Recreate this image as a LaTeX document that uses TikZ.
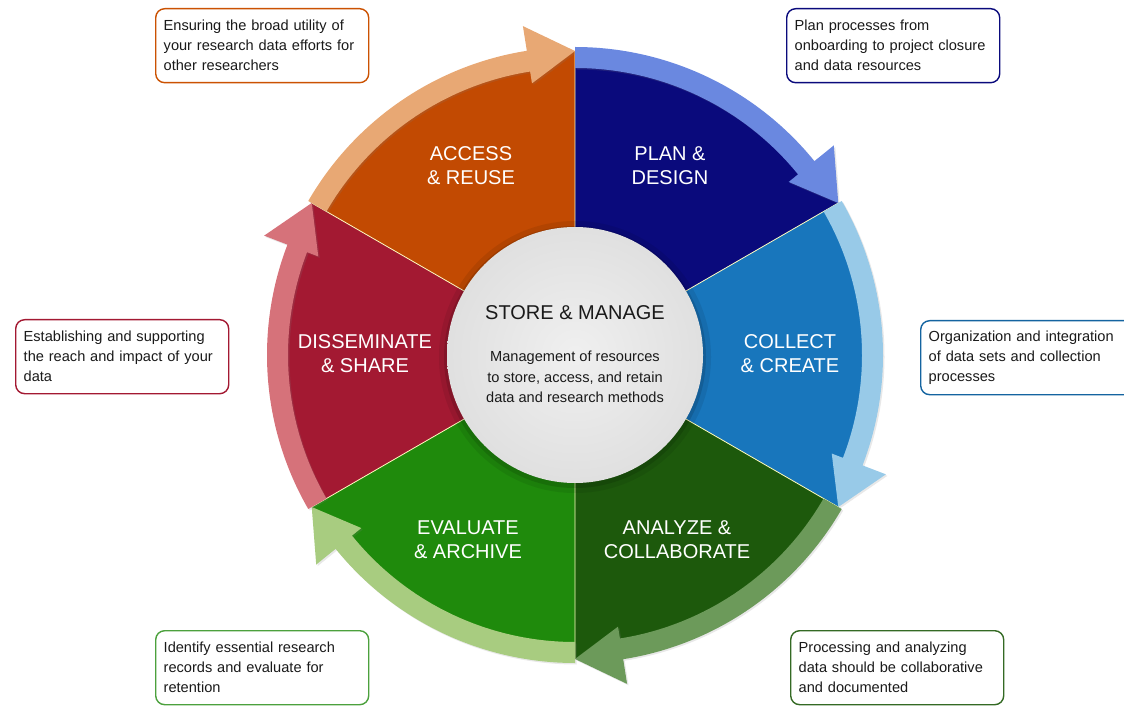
\documentclass[tikz,border=0pt]{standalone}
\usepackage{fontspec}
\setmainfont{Liberation Sans}
\usepackage{xcolor}
\usepackage{tikz}
\usetikzlibrary{shadows}

\definecolor{accF}{HTML}{C24A02}
\definecolor{accA}{HTML}{E8A874}
\definecolor{plnF}{HTML}{0A0A7C}
\definecolor{plnA}{HTML}{6A88E0}
\definecolor{colF}{HTML}{1876BC}
\definecolor{colA}{HTML}{98CAE8}
\definecolor{anaF}{HTML}{1D590C}
\definecolor{anaA}{HTML}{6C9A5A}
\definecolor{evaF}{HTML}{1F8A0C}
\definecolor{evaA}{HTML}{A8CC80}
\definecolor{disF}{HTML}{A31932}
\definecolor{disA}{HTML}{D6727A}
\definecolor{ink}{HTML}{1A1A1A}

\pgfdeclareradialshading{sphere}{\pgfpoint{0bp}{0bp}}{color(0bp)=(black!6); color(28bp)=(black!13); color(42bp)=(black!25); color(48.5bp)=(black!40); color(50bp)=(black!22)}

\begin{document}
\begin{tikzpicture}[x=1pt, y=1pt,
  phase/.style={text=white, align=center, font=\fontsize{20}{24}\selectfont},
  note/.style={draw, rounded corners=9pt, line width=1.4pt, fill=white, anchor=north west, text width=197pt, inner xsep=8pt, minimum height=74pt, align=left, text=ink, font=\fontsize{14.6}{20}\selectfont},
  sep/.style={draw=white!75!yellow, line width=0.8pt},
  loop/.style={drop shadow={opacity=0.18, shadow xshift=1.5pt, shadow yshift=-1.5pt}}
]
 \clip (0,0) rectangle (1124,705);

 \begin{scope}[shift={(575,350)}]
 % Phase wedges
 \fill[accF] (0,0) -- (150:304pt) arc[start angle=150, end angle=90, radius=304pt] -- cycle;
 \fill[plnF] (0,0) -- (90:304pt) arc[start angle=90, end angle=30, radius=304pt] -- cycle;
 \fill[colF] (0,0) -- (30:304pt) arc[start angle=30, end angle=-30, radius=304pt] -- cycle;
 \fill[anaF] (0,0) -- (-30:304pt) arc[start angle=-30, end angle=-90, radius=304pt] -- cycle;
 \fill[evaF] (0,0) -- (-90:304pt) arc[start angle=-90, end angle=-150, radius=304pt] -- cycle;
 \fill[disF] (0,0) -- (210:304pt) arc[start angle=210, end angle=150, radius=304pt] -- cycle;
 \draw[sep] (0,0) -- (90:304pt) (0,0) -- (30:304pt) (0,0) -- (-30:304pt)
   (0,0) -- (-90:304pt) (0,0) -- (-150:304pt) (0,0) -- (150:304pt);

 % Cycle arrows
 \fill[accA, loop] (150:308pt) arc[start angle=150, end angle=99, radius=308pt] -- (99:333pt) -- (90:304pt) -- (99:275pt) -- (99:287pt) arc[start angle=99, end angle=150, radius=287pt] -- cycle;
 \fill[plnA, loop] (90:308pt) arc[start angle=90, end angle=39, radius=308pt] -- (39:333pt) -- (30:304pt) -- (39:275pt) -- (39:287pt) arc[start angle=39, end angle=90, radius=287pt] -- cycle;
 \fill[colA, loop] (30:308pt) arc[start angle=30, end angle=-21, radius=308pt] -- (-21:333pt) -- (-30:304pt) -- (-21:275pt) -- (-21:287pt) arc[start angle=-21, end angle=30, radius=287pt] -- cycle;
 \fill[anaA, loop] (-30:308pt) arc[start angle=-30, end angle=-81, radius=308pt] -- (-81:333pt) -- (-90:304pt) -- (-81:275pt) -- (-81:287pt) arc[start angle=-81, end angle=-30, radius=287pt] -- cycle;
 \fill[evaA, loop] (-90:308pt) arc[start angle=-90, end angle=-141, radius=308pt] -- (-141:333pt) -- (-150:304pt) -- (-141:275pt) -- (-141:287pt) arc[start angle=-141, end angle=-90, radius=287pt] -- cycle;
 \fill[disA, loop] (210:308pt) arc[start angle=210, end angle=159, radius=308pt] -- (159:333pt) -- (150:304pt) -- (159:275pt) -- (159:287pt) arc[start angle=159, end angle=210, radius=287pt] -- cycle;

 % Phase labels
 \node[phase] (acc) at (-104,189) {ACCESS\\ \& REUSE};
 \node[phase] (pln) at (95,189) {PLAN \&\\ DESIGN};
 \node[phase] (col) at (215,1) {COLLECT\\ \& CREATE};
 \node[phase] (ana) at (102,-185) {ANALYZE \&\\ COLLABORATE};
 \node[phase] (eva) at (-107,-185) {EVALUATE\\ \& ARCHIVE};
 \node[phase] (dis) at (-210,1) {DISSEMINATE\\ \& SHARE};

 % Centre sphere
 \fill[black, opacity=0.08] (0,-2) circle (136pt);
 \fill[black, opacity=0.12] (0,-2) circle (131pt);
 \shade[shading=sphere] (0,0) circle (128pt);
 \node[text=ink, font=\fontsize{20}{24}\selectfont] (store) at (0,42) {STORE \& MANAGE};
 \node[text=ink, align=center, font=\fontsize{14.6}{20.5}\selectfont] (storetxt) at (0,-22)
   {Management of resources\\ to store, access, and retain\\ data and research methods};
 \end{scope}

 % Callouts
 \node[note, draw=accF!85!orange] (accnote) at (155,697) {Ensuring the broad utility of\\ your research data efforts for\\ other researchers};
 \node[note, draw=plnF] (plnnote) at (786,697) {Plan processes from\\ onboarding to project closure\\ and data resources};
 \node[note, draw=colF!85!black] (colnote) at (920,385) {Organization and integration\\ of data sets and collection\\ processes};
 \node[note, draw=disF] (disnote) at (15,386) {Establishing and supporting\\ the reach and impact of your\\ data};
 \node[note, draw=evaF!80!white] (evanote) at (155,75) {Identify essential research\\ records and evaluate for\\ retention};
 \node[note, draw=anaF!90!white] (ananote) at (790,75) {Processing and analyzing\\ data should be collaborative\\ and documented};
\end{tikzpicture}
\end{document}
